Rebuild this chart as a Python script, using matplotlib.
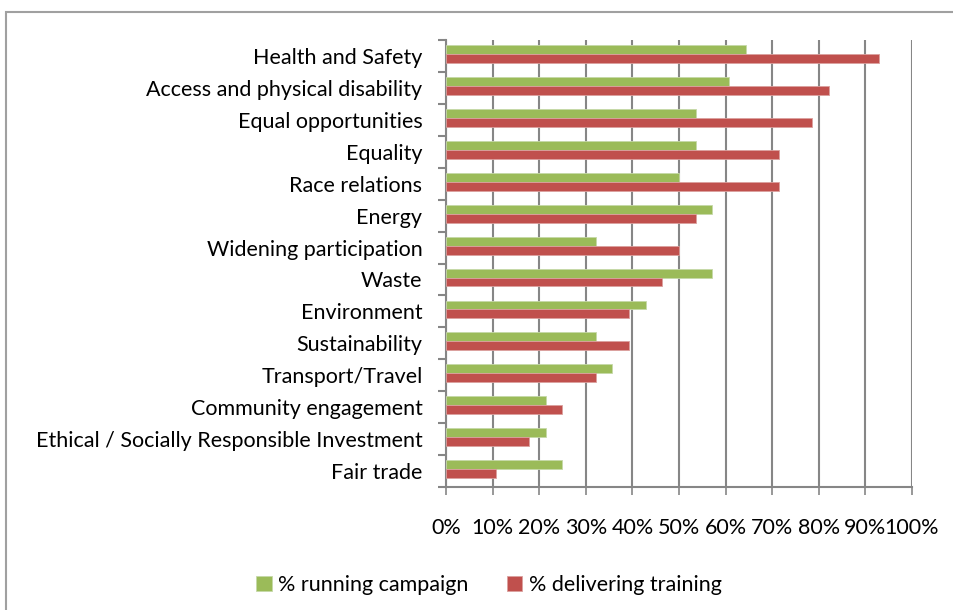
import numpy as np
import matplotlib
matplotlib.use('Agg')
from matplotlib import pyplot as plt
from matplotlib.patches import Rectangle

plt.rcParams['font.family'] = ['Lato', 'DejaVu Sans']

categories = ['Health and Safety', 'Access and physical disability', 'Equal opportunities',
              'Equality', 'Race relations', 'Energy', 'Widening participation', 'Waste',
              'Environment', 'Sustainability', 'Transport/Travel', 'Community engagement',
              'Ethical / Socially Responsible Investment', 'Fair trade']
campaign = [64.3, 60.7, 53.6, 53.6, 50.0, 57.1, 32.1, 57.1, 42.9, 32.1, 35.7, 21.4, 21.4, 25.0]
training = [92.9, 82.1, 78.6, 71.4, 71.4, 53.6, 50.0, 46.4, 39.3, 39.3, 32.1, 25.0, 17.9, 10.7]
xticks = [0, 10, 20, 30, 40, 50, 60, 70, 80, 90, 100]

green = '#9BBB59'
red = '#C0504D'
grid = '#868686'
fs = 15.5

fig = plt.figure(figsize=(9.54, 6.10), dpi=100)
ax = fig.add_axes([446/954, 1-487/610, 466/954, 447/610])

y = np.arange(len(categories))
h = 0.28
ax.barh(y - h/2 - 0.06, campaign, height=h, color=green, edgecolor='#c6d9a8', linewidth=0.6, label='% running campaign', zorder=3)
ax.barh(y + h/2 - 0.06, training, height=h, color=red, edgecolor='#dba09e', linewidth=0.6, label='% delivering training', zorder=3)

ax.set_ylim(len(categories) - 0.5, -0.5)
ax.set_xlim(0, 100)
ax.set_xticks(xticks)
ax.set_xticklabels([str(t) + '%' for t in xticks], fontsize=fs)
ax.set_yticks(y)
ax.set_yticklabels(categories, fontsize=fs)
ax.tick_params(axis='y', length=0, pad=17)
ax.set_yticks(np.arange(len(categories) + 1) - 0.5, minor=True)
ax.tick_params(axis='y', which='minor', length=6, width=1.5, color=grid)
ax.tick_params(axis='x', length=6, width=1.2, color=grid, pad=16)
ax.xaxis.grid(True, color=grid, linewidth=1.5, zorder=0)
for s in ['top', 'right']:
    ax.spines[s].set_visible(False)
for s in ['left', 'bottom']:
    ax.spines[s].set_color(grid)
    ax.spines[s].set_linewidth(1.5)

leg = fig.legend(loc='center', bbox_to_anchor=(489/954, 1-585/610), ncol=2, frameon=False,
                 fontsize=fs, handlelength=0.7, handleheight=0.7, handletextpad=0.3, columnspacing=1.8)

# outer chart border
fig.patches.append(Rectangle((6/954, -0.01), 1.0, 1-12/610 + 0.01, transform=fig.transFigure,
                             fill=False, edgecolor='#a0a0a0', linewidth=1.5))

fig.savefig('out.png', dpi=100)
